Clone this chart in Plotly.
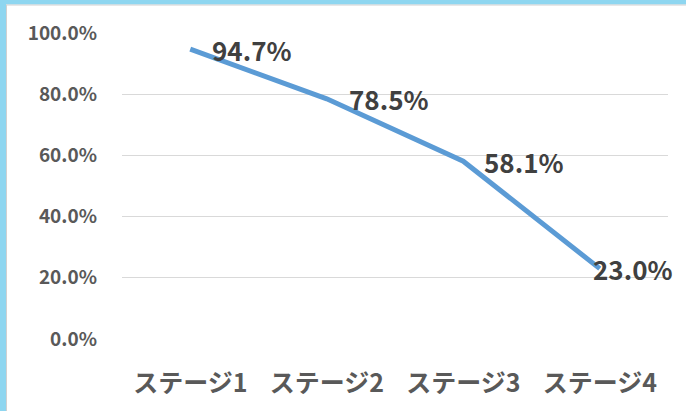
import plotly.graph_objects as go

categories = ["ステージ1", "ステージ2", "ステージ3", "ステージ4"]
values = [0.947, 0.785, 0.581, 0.230]
label_texts = ["94.7%", "78.5%", "58.1%", "23.0%"]
label_xshift = [20, 20, 19, -9]
y_ticks = [0.0, 0.2, 0.4, 0.6, 0.8, 1.0]

W, H = 686, 411
L, R, T, B = 122, 18, 33, 72
pw, ph = W - L - R, H - T - B

def px(x):
    return (x - L) / pw

def py(y):
    return (H - B - y) / ph

fig = go.Figure()
fig.add_trace(go.Scatter(
    x=categories, y=values, mode="lines",
    line=dict(color="#5B9BD5", width=5),
    hoverinfo="skip", cliponaxis=False,
))

for c, v, t, s in zip(categories, values, label_texts, label_xshift):
    fig.add_annotation(
        x=c, y=v, text=t, showarrow=False, xanchor="left", yanchor="middle",
        xshift=s, font=dict(family="Noto Sans CJK JP", size=26, color="#404040", weight="bold"),
    )

blue = "#8ED6F0"
fig.add_shape(type="rect", xref="paper", yref="paper", x0=px(0), x1=px(6), y0=py(H), y1=py(0),
              fillcolor=blue, line=dict(width=0), layer="below")
fig.add_shape(type="rect", xref="paper", yref="paper", x0=px(0), x1=px(W), y0=py(4.5), y1=py(0),
              fillcolor=blue, line=dict(width=0), layer="below")
fig.add_shape(type="line", xref="paper", yref="paper", x0=px(6.5), x1=px(6.5), y0=py(H), y1=py(4.5),
              line=dict(color="#D0D0D0", width=1))
fig.add_shape(type="line", xref="paper", yref="paper", x0=px(6.5), x1=px(W), y0=py(5), y1=py(5),
              line=dict(color="#D0D0D0", width=1))

fig.update_layout(
    width=W, height=H,
    margin=dict(l=L, r=R, t=T, b=B, autoexpand=False),
    paper_bgcolor="white", plot_bgcolor="white",
    showlegend=False,
    font=dict(family="Noto Sans CJK JP", color="#595959"),
    xaxis=dict(
        type="category", showgrid=False, zeroline=False, showline=False, automargin=False,
        tickfont=dict(family="Noto Sans CJK JP", size=25, color="#595959", weight="bold"),
        ticks="", ticklabelstandoff=27, range=[-0.5, 3.5],
    ),
    yaxis=dict(
        range=[0, 1], tickvals=y_ticks, tickformat=".1%", automargin=False,
        showgrid=True, gridcolor="#D9D9D9", gridwidth=1, zeroline=False, showline=False,
        tickfont=dict(family="Noto Sans CJK JP", size=19, color="#595959", weight="bold"),
        ticks="", ticklabelstandoff=24,
    ),
)

fig.write_html(
    "out.html",
    config={"displayModeBar": False},
    post_script="document.body.style.margin='0';document.body.style.overflow='hidden';",
)
